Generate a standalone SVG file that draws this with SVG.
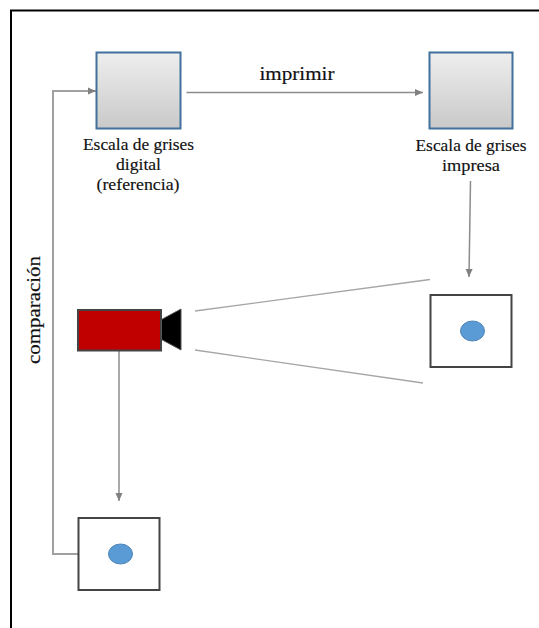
<svg xmlns="http://www.w3.org/2000/svg" width="539" height="628" viewBox="0 0 539 628">
<style>
text{font-family:"Liberation Serif","DejaVu Serif",serif;font-size:16px;fill:#111;stroke:#111;stroke-width:.15px;text-anchor:middle}
.sq{fill:url(#g);stroke:#41719c;stroke-width:2}
.pic{fill:#fff;stroke:#444;stroke-width:2}
.dot{fill:#5b9bd5;stroke:#4f86ba;stroke-width:1}
.c{fill:none;stroke:#8c8c8c;stroke-width:2}
.t{fill:none;stroke:#a6a6a6;stroke-width:1.3}
</style>
<defs>
<linearGradient id="g" x1="0" y1="0" x2="0" y2="1"><stop offset="0" stop-color="#eeeeee"/><stop offset="1" stop-color="#c9c9c9"/></linearGradient>
<marker id="a" markerUnits="userSpaceOnUse" markerWidth="9" markerHeight="9" refX="8" refY="4" orient="auto"><path d="M0 0.500L8 4L0 7.500Z" fill="#808080"/></marker>
</defs>
<rect width="539" height="628" fill="#fff"/>
<path d="M11 628V10.500H539" fill="none" stroke="#000" stroke-width="2"/>
<g id="connectors">
<path class="c" d="M186.500 92.500H423" marker-end="url(#a)" style="stroke-width:1.700"/>
<path class="c" d="M78 554H53V91H96" marker-end="url(#a)" style="stroke:#a0a0a0"/>
<path class="c" d="M470.500 181L469 277" marker-end="url(#a)" style="stroke-width:1.500"/>
<path class="c" d="M119 351V501" marker-end="url(#a)" style="stroke-width:1.500"/>
<path class="t" d="M195 311L430 279.500"/>
<path class="t" d="M195 350L423 383"/>
</g>
<g id="digital-scale"><rect class="sq" x="96.500" y="52.500" width="84" height="76"/>
<text x="138.500" y="150" textLength="111" lengthAdjust="spacingAndGlyphs">Escala de grises</text><text x="138.500" y="170" textLength="45" lengthAdjust="spacingAndGlyphs">digital</text><text x="138" y="190" textLength="83" lengthAdjust="spacingAndGlyphs">(referencia)</text></g>
<g id="printed-scale"><rect class="sq" x="429.500" y="52.500" width="83" height="76"/>
<text x="471" y="151" textLength="111" lengthAdjust="spacingAndGlyphs">Escala de grises</text><text x="471" y="171" textLength="58" lengthAdjust="spacingAndGlyphs">impresa</text></g>
<g id="print-label"><text x="297" y="80" style="font-size:18px" textLength="75" lengthAdjust="spacingAndGlyphs">imprimir</text></g>
<g id="compare-label"><text transform="translate(40 310) rotate(-90)" style="font-size:18px" textLength="108" lengthAdjust="spacingAndGlyphs">comparación</text></g>
<g id="camera"><rect x="78" y="310" width="83" height="40.500" fill="#c00000" stroke="#444" stroke-width="2"/>
<path d="M161.500 319.500L181 309V350L161.500 339.500Z" fill="#000" stroke="#555" stroke-width="1"/></g>
<g id="printed-photo"><rect class="pic" x="430.500" y="295" width="81" height="72"/><ellipse class="dot" cx="472.500" cy="331" rx="12" ry="10"/></g>
<g id="digital-photo"><rect class="pic" x="78.500" y="518" width="81" height="72"/><ellipse class="dot" cx="120.500" cy="554" rx="12" ry="10"/></g>
</svg>
